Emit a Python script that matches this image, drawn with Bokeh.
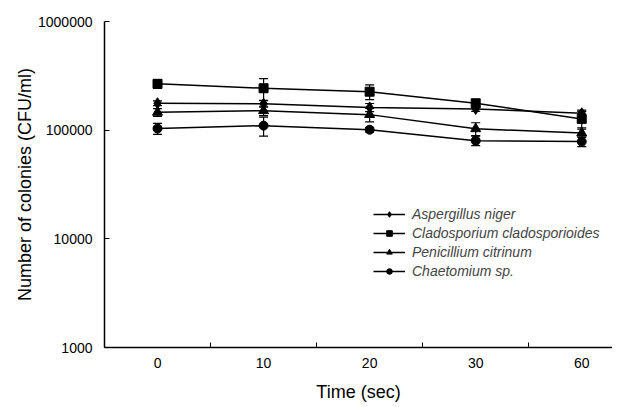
from bokeh.plotting import figure
from bokeh.models import ColumnDataSource, Whisker, TeeHead, FixedTicker, PrintfTickFormatter, Legend, LegendItem, Range1d
from bokeh.embed import file_html
from bokeh.resources import INLINE

times = ["0", "10", "20", "30", "60"]
aspergillus = [177000, 175000, 162000, 157000, 143000]
aspergillus_err = [9000, 12000, 14000, 8000, 10000]
cladosporium = [267000, 243000, 226000, 177000, 127000]
cladosporium_err = [25000, 55000, 35000, 14000, 22000]
penicillium = [146000, 151000, 139000, 103000, 94000]
penicillium_err = [12000, 15000, 20000, 14000, 8000]
chaetomium = [103500, 110000, 101000, 80000, 78500]
chaetomium_err = [12000, 22000, 5000, 8000, 8000]

series = [
    ("Aspergillus niger", aspergillus, aspergillus_err, "diamond", 11),
    ("Cladosporium cladosporioides", cladosporium, cladosporium_err, "square", 9),
    ("Penicillium citrinum", penicillium, penicillium_err, "triangle", 10),
    ("Chaetomium sp.", chaetomium, chaetomium_err, "circle", 9),
]

FONT = "Liberation Sans"

p = figure(width=612, height=405, y_axis_type="log", output_backend="svg",
           toolbar_location=None, x_range=Range1d(-0.5, 4.29), y_range=Range1d(1000, 1000000),
           min_border_left=104, min_border_top=21, min_border_right=0, min_border_bottom=58)
p.outline_line_color = None
p.grid.visible = False
p.background_fill_color = "white"
p.border_fill_color = "white"

xs = list(range(len(times)))
items = []
for name, vals, errs, marker, size in series:
    src = ColumnDataSource(dict(x=xs, y=vals,
                                upper=[v + e for v, e in zip(vals, errs)],
                                lower=[v - e for v, e in zip(vals, errs)]))
    w = Whisker(source=src, base="x", upper="upper", lower="lower", dimension="height",
                line_color="black", line_width=1.2,
                upper_head=TeeHead(size=9, line_color="black", line_width=1.2),
                lower_head=TeeHead(size=9, line_color="black", line_width=1.2))
    p.add_layout(w)
    ln = p.line("x", "y", source=src, line_color="black", line_width=1.5)
    mk = p.scatter("x", "y", source=src, marker=marker, size=size,
                   fill_color="black", line_color="black")
    items.append(LegendItem(label=name, renderers=[ln, mk]))

legend = Legend(items=items, location=(269, 68), border_line_color=None,
                background_fill_alpha=0, label_text_font=FONT, label_text_font_style="italic",
                label_text_font_size="14px", glyph_width=32, glyph_height=14,
                spacing=3, padding=0, label_standoff=7, margin=0)
p.add_layout(legend, "center")

# axes
p.xaxis.ticker = FixedTicker(ticks=xs, minor_ticks=[0.5, 1.5, 2.5, 3.5])
p.xaxis.major_label_overrides = {i: t for i, t in enumerate(times)}
p.xaxis.major_tick_in = 0
p.xaxis.major_tick_out = 0
p.xaxis.minor_tick_in = 5
p.xaxis.minor_tick_out = 0
p.xaxis.minor_tick_line_color = "black"
p.xaxis.axis_label = "Time (sec)"

p.yaxis.ticker = FixedTicker(ticks=[1000, 10000, 100000, 1000000], minor_ticks=[])
p.yaxis.formatter = PrintfTickFormatter(format="%d")
p.yaxis.major_tick_in = 5
p.yaxis.major_tick_out = 0
p.yaxis.minor_tick_line_color = None
p.yaxis.axis_label = "Number of colonies (CFU/ml)"

for ax in (p.xaxis[0], p.yaxis[0]):
    ax.axis_line_color = "black"
    ax.axis_line_width = 1.5
    ax.major_tick_line_color = "black"
    ax.major_label_text_font = FONT
    ax.major_label_text_font_size = "14px"
    ax.major_label_text_color = "black"
    ax.axis_label_text_font = FONT
    ax.axis_label_text_font_style = "normal"
    ax.axis_label_text_color = "black"
    ax.axis_label_text_font_size = "18px"

p.xaxis.major_label_standoff = 10
p.xaxis.axis_label_standoff = 11
p.yaxis.major_label_standoff = 12
p.yaxis.axis_label_standoff = 0

open("out.html", "w").write(file_html(p, INLINE))
